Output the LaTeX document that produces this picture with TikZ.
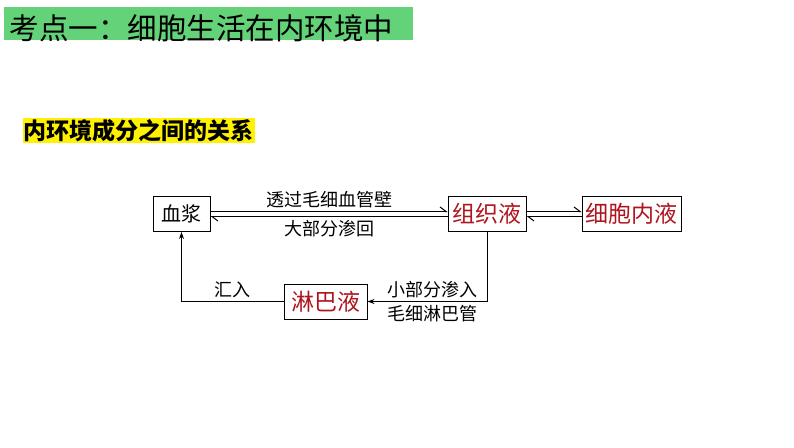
\documentclass[tikz,border=0pt]{standalone}
\usepackage{fontspec}
\newfontfamily\cjk{Noto Sans CJK SC}
\usetikzlibrary{arrows.meta, positioning}
\definecolor{titlegreen}{RGB}{100,210,120}
\definecolor{fluidred}{RGB}{175,20,30}

\begin{document}
\begin{tikzpicture}[
x=1pt, y=-1pt,
>={Stealth[length=7pt, width=5pt]},
line width=1pt,
box/.style={draw, line width=1pt, minimum height=35pt, inner sep=2pt, font=\cjk\fontsize{20}{20}\selectfont},
fluid/.style={box, text=fluidred, font=\cjk\fontsize{23}{23}\selectfont},
lbl/.style={font=\cjk\fontsize{18}{18}\selectfont, inner sep=3pt},
half/.style={-{Straight Barb[left, length=6pt, width=9pt]}}
]
\useasboundingbox (0,0) rectangle (794,447);

% --- Titres ---
\node[fill=titlegreen, minimum width=409pt, minimum height=33pt, inner sep=0pt, anchor=north west] (titlebar) at (3,6) {};
\node[anchor=west, inner sep=0pt, font=\cjk\fontsize{29.5}{29.5}\selectfont] (title) at (9,28.5) {考点一：细胞生活在内环境中};
\node[fill=yellow, anchor=west, inner sep=1pt, font=\cjk\bfseries\fontsize{23}{23}\selectfont] (heading) at (22,130.5) {内环境成分之间的关系};

% --- Noeuds ---
\node[box, minimum width=57pt] (plasma) at (181.5,214) {血浆};
\node[fluid, minimum width=78pt] (tissue) at (487,214) {组织液};
\node[fluid, minimum width=99pt] (cell) at (631.5,214) {细胞内液};
\node[fluid, minimum width=83pt] (lymph) at (325.5,301.5) {淋巴液};

% --- Echanges plasma / liquide tissulaire ---
\draw[half] ([yshift=2.5pt]plasma.east) -- ([yshift=2.5pt]tissue.west)
node[lbl, midway, above] {透过毛细血管壁};
\draw[half] ([yshift=-2.5pt]tissue.west) -- ([yshift=-2.5pt]plasma.east)
node[lbl, midway, below] {大部分渗回};

% --- Echanges avec le liquide intracellulaire ---
\draw[half] ([yshift=2.5pt]tissue.east) -- ([yshift=2.5pt]cell.west);
\draw[half] ([yshift=-2.5pt]cell.west) -- ([yshift=-2.5pt]tissue.east);

% --- Boucle lymphatique ---
\draw[->] (tissue.south) |- (lymph.east)
node[lbl, pos=0.73, above] {小部分渗入}
node[lbl, pos=0.73, below] {毛细淋巴管};
\draw[->] (lymph.west) -| (plasma.south)
node[lbl, pos=0.25, above] {汇入};

\end{tikzpicture}
\end{document}
